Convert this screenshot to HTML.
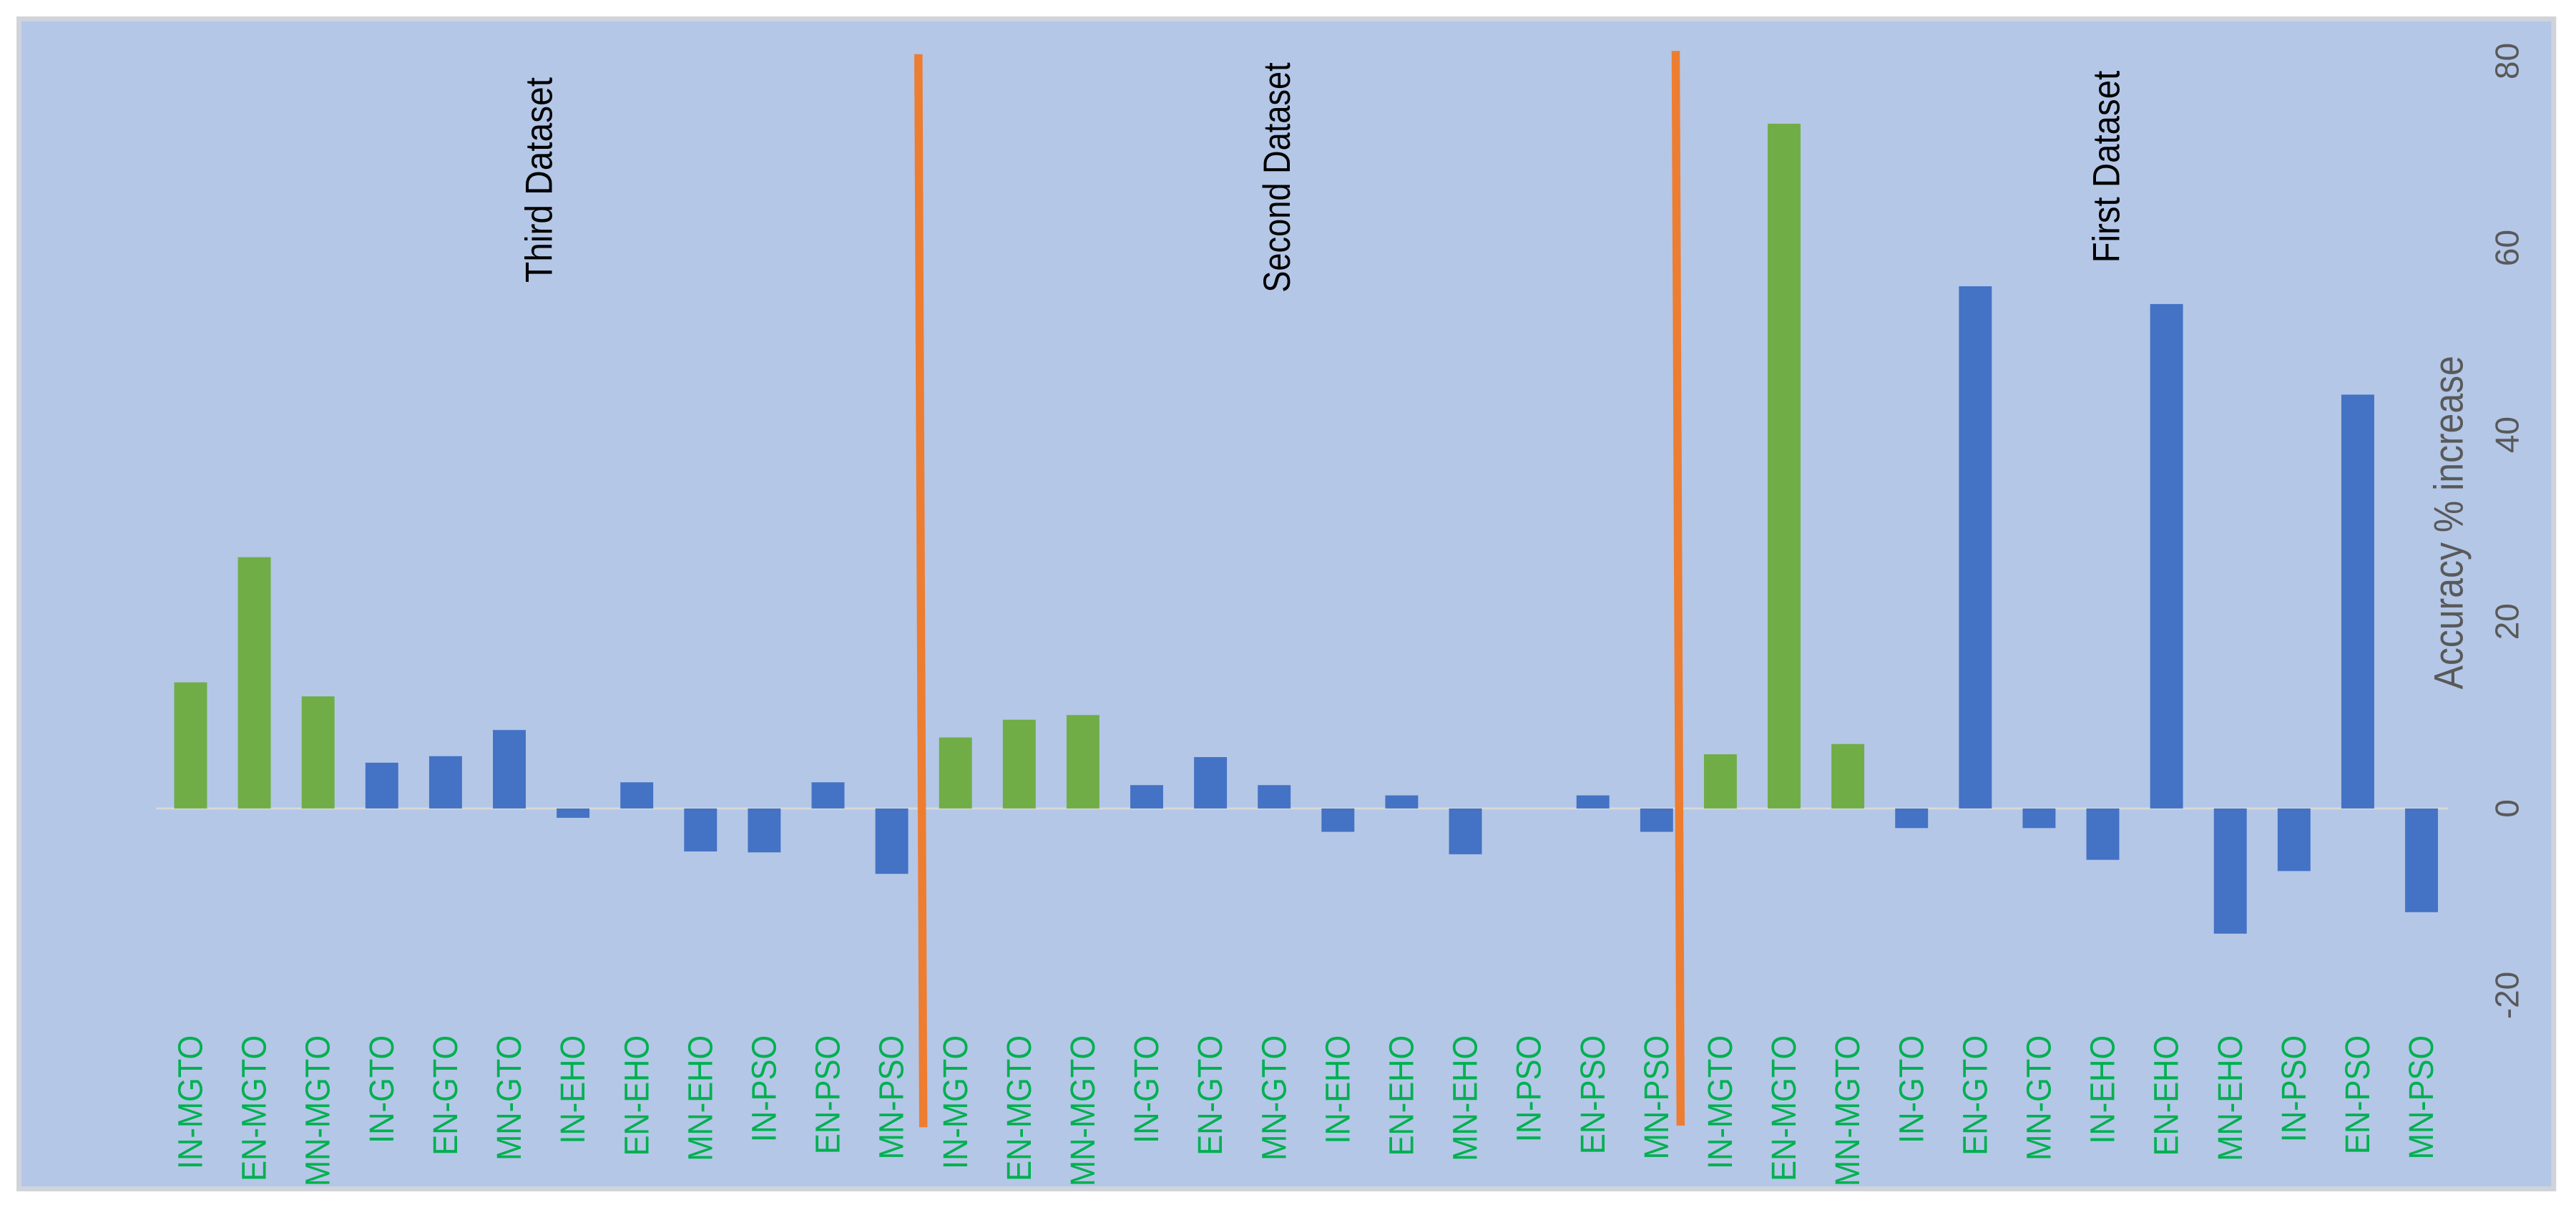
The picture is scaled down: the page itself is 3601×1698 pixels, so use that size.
<!DOCTYPE html>
<html><head><meta charset="utf-8"><style>
html,body{margin:0;padding:0;background:#fff;}
svg{display:block;}
text{font-family:"Liberation Sans Narrow","Liberation Sans",sans-serif;}
</style></head><body>
<svg id="chart" width="3601" height="1698" viewBox="0 0 1568 739.4" xmlns="http://www.w3.org/2000/svg">
<rect x="11.5" y="11.5" width="1543" height="712" fill="#B4C7E7" stroke="#D0D4DA" stroke-width="3"/>
<g id="grid"></g>
<g id="bars"></g>
<g id="xlabels"></g>
<g id="yticks"></g>
<line x1="559" y1="33" x2="562" y2="686" stroke="#ED7D31" stroke-width="5"/>
<line x1="1020" y1="31" x2="1023" y2="685" stroke="#ED7D31" stroke-width="5"/>
<text transform="translate(336,47) rotate(-90)" text-anchor="end" font-size="23" textLength="125" lengthAdjust="spacingAndGlyphs" fill="#000">Third Dataset</text>
<text transform="translate(785,38) rotate(-90)" text-anchor="end" font-size="23" textLength="140" lengthAdjust="spacingAndGlyphs" fill="#000">Second Dataset</text>
<text transform="translate(1290,43) rotate(-90)" text-anchor="end" font-size="23" textLength="117" lengthAdjust="spacingAndGlyphs" fill="#000">First Dataset</text>
<text transform="translate(1499,318) rotate(-90)" text-anchor="middle" font-size="25" textLength="203" lengthAdjust="spacingAndGlyphs" fill="#595959">Accuracy % increase</text>
</svg>
<script>
const categories = ["IN-MGTO","EN-MGTO","MN-MGTO","IN-GTO","EN-GTO","MN-GTO","IN-EHO","EN-EHO","MN-EHO","IN-PSO","EN-PSO","MN-PSO",
"IN-MGTO","EN-MGTO","MN-MGTO","IN-GTO","EN-GTO","MN-GTO","IN-EHO","EN-EHO","MN-EHO","IN-PSO","EN-PSO","MN-PSO",
"IN-MGTO","EN-MGTO","MN-MGTO","IN-GTO","EN-GTO","MN-GTO","IN-EHO","EN-EHO","MN-EHO","IN-PSO","EN-PSO","MN-PSO"];
const thirdValues = [13.5,26.9,12,4.9,5.6,8.4,-1,2.8,-4.6,-4.7,2.8,-7];
const secondValues = [7.6,9.5,10,2.5,5.5,2.5,-2.5,1.4,-4.9,0,1.4,-2.5];
const firstValues = [5.8,73.3,6.9,-2.1,55.9,-2.1,-5.5,54,-13.4,-6.7,44.3,-11.1];
const yTicks = [-20,0,20,40,60,80];
const values = thirdValues.concat(secondValues, firstValues);
const NS = "http://www.w3.org/2000/svg";
const x0 = 116, step = (1474 - 116) / 35, barW = 20;
function xScale(i){ return x0 + i * step; }
function yScale(v){ return 492 - v * 5.685; }
const bars = document.getElementById('bars');
values.forEach((v, i) => {
  const r = document.createElementNS(NS, 'rect');
  
  
  const y1 = yScale(Math.max(v, 0)), y2 = yScale(Math.min(v, 0));
  r.setAttribute('x', xScale(i) - barW / 2);
  r.setAttribute('y', y1);
  r.setAttribute('width', barW);
  r.setAttribute('height', y2 - y1);
  r.setAttribute('fill', categories[i].indexOf('MGTO') >= 0 ? '#70AD47' : '#4472C4');
  bars.appendChild(r);
});
const grid = document.getElementById('grid');
const zl = document.createElementNS(NS, 'line');


zl.setAttribute('x1', 95); zl.setAttribute('x2', 1490);
zl.setAttribute('y1', yScale(0)); zl.setAttribute('y2', yScale(0));
zl.setAttribute('stroke', '#D9D9D9'); zl.setAttribute('stroke-width', '1.2');
grid.appendChild(zl);
const xl = document.getElementById('xlabels');
categories.forEach((c, i) => {
  const t = document.createElementNS(NS, 'text');
  
  
  const x = xScale(i) + 7;
  t.setAttribute('transform', 'translate(' + x + ',630) rotate(-90) scale(0.9,1)');
  t.setAttribute('text-anchor', 'end');
  t.setAttribute('font-size', '21');
  t.setAttribute('fill', '#00B050');
  t.textContent = c;
  xl.appendChild(t);
});
const yt = document.getElementById('yticks');
yTicks.forEach(v => {
  const t = document.createElementNS(NS, 'text');
  
  
  t.setAttribute('transform', 'translate(1533,' + yScale(v) + ') rotate(-90)');
  t.setAttribute('text-anchor', 'middle');
  t.setAttribute('font-size', '20');
  t.setAttribute('fill', '#595959');
  t.textContent = v;
  yt.appendChild(t);
});
</script>
</body></html>
